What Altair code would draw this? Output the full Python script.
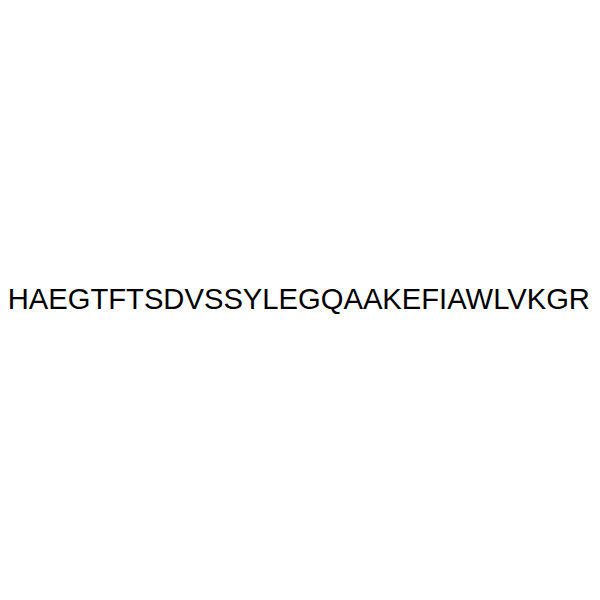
import altair as alt
import pandas as pd

labels = ["HAEGTFTSDVSSYLEGQAAKEFIAWLVKGR"]

df = pd.DataFrame({"label": labels})

chart = (
    alt.Chart(df)
    .mark_text(
        font="Liberation Sans",
        fontSize=29.6,
        color="#000000",
        align="center",
        baseline="alphabetic",
    )
    .encode(text="label:N", x=alt.value(294.8), y=alt.value(301))
    .properties(
        width=592,
        height=584,
        padding=0,
        autosize=alt.AutoSizeParams(type="none"),
    )
    .configure_view(stroke=None)
)

chart.save("out.html", embed_options={"renderer": "svg", "actions": False})
